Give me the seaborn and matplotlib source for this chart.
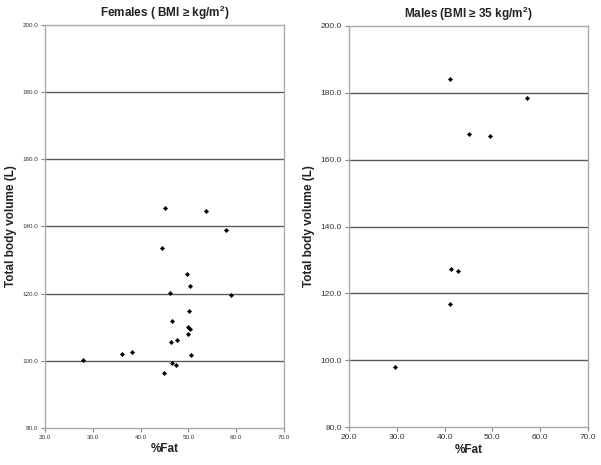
import matplotlib
matplotlib.use("Agg")
import matplotlib.pyplot as plt
import seaborn as sns
import pandas as pd
from matplotlib.ticker import FormatStrFormatter

female_fat = [45.0, 53.7, 57.9, 44.5, 49.6, 50.3, 46.1, 59.0, 50.2, 46.6, 49.9,
              50.3, 49.9, 47.7, 46.4, 38.1, 36.0, 50.6, 28.0, 46.6, 47.4, 44.8]
female_vol = [145.6, 144.6, 139.0, 133.6, 125.9, 122.3, 120.3, 119.6, 114.9, 112.0, 110.1,
              109.5, 107.9, 106.2, 105.5, 102.6, 102.0, 101.8, 100.1, 99.4, 98.7, 96.5]
male_fat = [41.2, 57.3, 45.2, 49.5, 41.4, 42.8, 41.1, 29.7]
male_vol = [184.2, 178.6, 167.8, 167.0, 127.2, 126.7, 116.9, 98.1]

titles = ["Females ( BMI \u2265 kg/m$^2$)", "Males (BMI \u2265 35 kg/m$^2$)"]
x_ticks = [20, 30, 40, 50, 60, 70]
y_ticks = [80, 100, 120, 140, 160, 180, 200]
xlabel = "%Fat"
ylabel = "Total body volume (L)"

sns.set_theme(style="white")
plt.rcParams['font.family'] = ['Liberation Sans', 'DejaVu Sans']
plt.rcParams['mathtext.default'] = 'regular'

fig = plt.figure(figsize=(6.01, 4.65), dpi=100)
ax1 = fig.add_axes([0.0749, 0.0796, 0.3977, 0.8667])
ax2 = fig.add_axes([0.5807, 0.0817, 0.3977, 0.8624])

panels = [
    (ax1, pd.DataFrame({"fat": female_fat, "vol": female_vol}), titles[0], 4.5),
    (ax2, pd.DataFrame({"fat": male_fat, "vol": male_vol}), titles[1], 6.0),
]

for ax, df, title, tfs in panels:
    ax.set_xlim(20, 70)
    ax.set_ylim(80, 200)
    for yv in y_ticks[1:-1]:
        ax.axhline(yv, color="#5a5a5a", lw=1.0, zorder=1)
    sns.scatterplot(data=df, x="fat", y="vol", ax=ax, marker="D", s=5,
                    color="black", edgecolor="black", linewidth=0.3, zorder=3)
    ax.set_xticks(x_ticks)
    ax.set_yticks(y_ticks)
    ax.xaxis.set_major_formatter(FormatStrFormatter("%.1f"))
    ax.yaxis.set_major_formatter(FormatStrFormatter("%.1f"))
    ax.tick_params(axis="both", direction="out", length=3, width=0.8,
                   color="#888888", labelsize=tfs, labelcolor="#333333", pad=2,
                   left=True, bottom=True)
    for sp in ax.spines.values():
        sp.set_visible(True)
        sp.set_color("#aaaaaa")
        sp.set_linewidth(1.0)
    ax.set_xlabel(xlabel, fontsize=8.5, fontweight="bold", labelpad=2, color="#222222")
    ax.set_ylabel(ylabel, fontsize=8.5, fontweight="bold", labelpad=4, color="#222222")
    ax.set_title(title, fontsize=8.5, fontweight="bold", pad=6, color="#222222")

fig.savefig("out.png", dpi=100)
